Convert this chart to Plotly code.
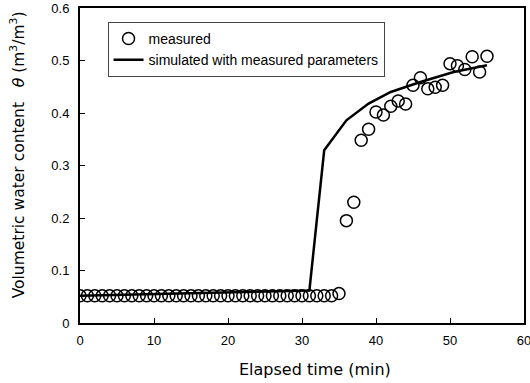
import plotly.graph_objects as go

meas_t = list(range(0, 56))
meas_theta = [0.052] * 35 + [0.056,
              0.195, 0.230, 0.348, 0.369, 0.402, 0.396, 0.413, 0.423, 0.417, 0.453,
              0.467, 0.446, 0.449, 0.453, 0.494, 0.490, 0.483, 0.507, 0.478, 0.508]

sim_t = [0, 31, 32, 33, 36, 39, 42, 46, 50.5, 55]
sim_theta = [0.052, 0.062, 0.196, 0.329, 0.386, 0.418, 0.440, 0.459, 0.478, 0.491]

x_ticks = [0, 10, 20, 30, 40, 50, 60]
y_ticks = [0, 0.1, 0.2, 0.3, 0.4, 0.5, 0.6]
y_ticktext = ["0", "0.1", "0.2", "0.3", "0.4", "0.5", "0.6"]

FONT = "Liberation Sans"
TFONT = "DejaVu Sans"

fig = go.Figure()
fig.add_trace(go.Scatter(
    x=meas_t, y=meas_theta, mode="markers", name="measured",
    marker=dict(symbol="circle-open", size=12, color="black", line=dict(width=1.5, color="black")),
))
fig.add_trace(go.Scatter(
    x=sim_t, y=sim_theta, mode="lines", name="simulated with measured parameters",
    line=dict(color="black", width=2.5),
))

fig.update_layout(
    width=530, height=383,
    margin=dict(l=80, r=6, t=8, b=60, autoexpand=False),
    paper_bgcolor="white", plot_bgcolor="white",
    font=dict(family=FONT, size=13, color="black"),
    showlegend=True,
    legend=dict(
        x=0.062, y=0.956, xanchor="left", yanchor="top",
        bgcolor="white", bordercolor="#444", borderwidth=1,
        font=dict(family=FONT, size=14, color="black"),
        tracegroupgap=4,
    ),
    xaxis=dict(
        range=[0, 60], tickvals=x_ticks,
        ticks="inside", ticklen=5, tickcolor="black",
        showline=True, linecolor="black", linewidth=2, mirror=True,
        showgrid=False, zeroline=False, automargin=False,
        tickfont=dict(size=13, family=FONT), ticklabelstandoff=4,
        ticklabeloverflow="allow",
    ),
    yaxis=dict(
        range=[0, 0.6], tickvals=y_ticks, ticktext=y_ticktext,
        ticks="inside", ticklen=5, tickcolor="black",
        showline=True, linecolor="black", linewidth=2, mirror=True,
        showgrid=False, zeroline=False, automargin=False,
        tickfont=dict(size=13, family=FONT), ticklabelstandoff=6,
        ticklabeloverflow="allow",
    ),
    annotations=[
        dict(text="Elapsed time (min)", xref="paper", yref="paper",
             x=0.529, y=-0.148, xanchor="center", yanchor="middle",
             showarrow=False, font=dict(size=16, family=TFONT)),
        dict(text="Volumetric water content   <i>θ</i> (m<sup>3</sup>/m<sup>3</sup>)",
             xref="paper", yref="paper", x=-0.14, y=0.535,
             xanchor="center", yanchor="middle", textangle=-90,
             showarrow=False, font=dict(size=15.5, family=TFONT)),
    ],
)

fig.write_html("out.html", config={"displayModeBar": False},
               post_script="document.body.style.margin='0';")
